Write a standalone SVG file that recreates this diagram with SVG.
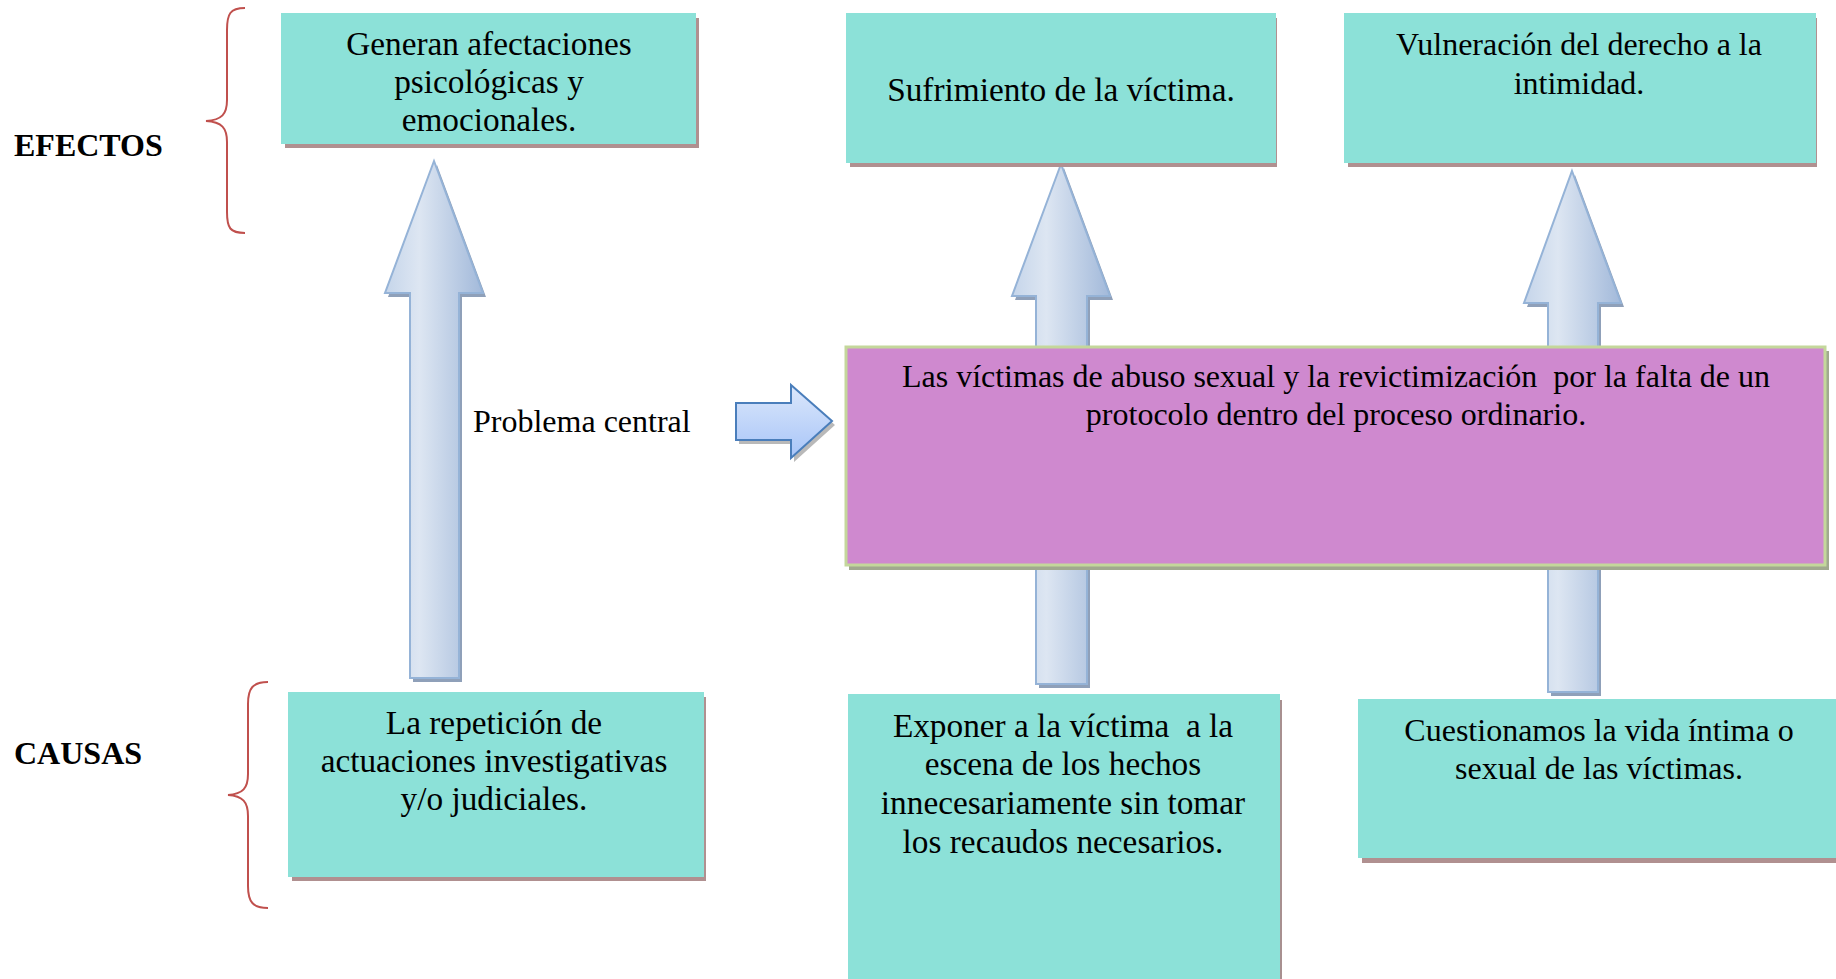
<svg xmlns="http://www.w3.org/2000/svg" width="1836" height="979" viewBox="0 0 1836 979">
<defs>
<linearGradient id="ag" x1="0" y1="0" x2="1" y2="0">
<stop offset="0" stop-color="#c5d5ea"/>
<stop offset="0.35" stop-color="#dde6f2"/>
<stop offset="1" stop-color="#a2b9da"/>
</linearGradient>
<linearGradient id="bg" x1="0" y1="0" x2="0" y2="1">
<stop offset="0" stop-color="#dbe7fb"/>
<stop offset="1" stop-color="#a8c5f8"/>
</linearGradient>
<style>
.t{font-family:"Liberation Serif","Times New Roman",serif;font-size:33.3px;fill:#000;text-anchor:middle}
.t2{font-family:"Liberation Serif","Times New Roman",serif;font-size:32px;fill:#000;text-anchor:middle}
.lbl{font-family:"Liberation Serif","Times New Roman",serif;font-size:32px;font-weight:bold;fill:#000}
.box{fill:#8ce1d8}
.sh{fill:#b09090}
.arr{fill:url(#ag);stroke:#95b3d7;stroke-width:2}
.ash{fill:#8fa0b9}
.brace{fill:none;stroke:#c0504d;stroke-width:2}
</style>
</defs>
<rect width="1836" height="979" fill="#fff"/>

<g id="labels">
<text class="lbl" x="14" y="156">EFECTOS</text>
<text class="lbl" x="14" y="764">CAUSAS</text>
<path class="brace" d="M245,8 C230,8 227,14 227,30 L227,100 C227,114 222,120 206,121 C222,122 227,128 227,142 L227,212 C227,228 230,233 245,233"/>
<path class="brace" d="M268,682 C253,682 248,688 248,704 L248,774 C248,788 243,794 228,795 C243,796 248,802 248,816 L248,886 C248,902 253,908 268,908"/>
</g>

<g id="connectors">
<g id="arrow-left">
<path class="ash" transform="translate(3,4)" d="M434,161 L483,293 L459,293 L459,678 L410,678 L410,293 L385,293 Z"/>
<path class="arr" d="M434,161 L483,293 L459,293 L459,678 L410,678 L410,293 L385,293 Z"/>
</g>
<g id="arrow-mid">
<path class="ash" transform="translate(3,4)" d="M1061,164 L1110,296 L1087,296 L1087,684 L1036,684 L1036,296 L1012,296 Z"/>
<path class="arr" d="M1061,164 L1110,296 L1087,296 L1087,684 L1036,684 L1036,296 L1012,296 Z"/>
</g>
<g id="arrow-right">
<path class="ash" transform="translate(3,4)" d="M1572,171 L1621,303 L1598,303 L1598,692 L1548,692 L1548,303 L1524,303 Z"/>
<path class="arr" d="M1572,171 L1621,303 L1598,303 L1598,692 L1548,692 L1548,303 L1524,303 Z"/>
</g>
<g id="arrow-block">
<path fill="#8a8a8a" opacity="0.6" transform="translate(3,4)" d="M736,403 L791,403 L791,385 L832,421 L791,458 L791,440 L736,440 Z"/>
<path fill="url(#bg)" stroke="#4a7ebb" stroke-width="2" d="M736,403 L791,403 L791,385 L832,421 L791,458 L791,440 L736,440 Z"/>
</g>
</g>

<g id="node-generan">
<rect class="sh" x="285" y="18" width="414" height="130"/>
<rect class="box" x="281" y="13" width="415" height="131"/>
<text class="t" x="489" y="55">Generan afectaciones</text>
<text class="t" x="489" y="93">psicológicas y</text>
<text class="t" x="489" y="131">emocionales.</text>
</g>

<g id="node-sufrimiento">
<rect class="sh" x="850" y="18" width="427" height="149"/>
<rect class="box" x="846" y="13" width="430" height="150"/>
<text class="t" x="1061" y="101">Sufrimiento de la víctima.</text>
</g>

<g id="node-vulneracion">
<rect class="sh" x="1348" y="18" width="469" height="149"/>
<rect class="box" x="1344" y="13" width="472" height="150"/>
<text class="t2" x="1579" y="55">Vulneración del derecho a la</text>
<text class="t2" x="1579" y="94">intimidad.</text>
</g>

<g id="node-central">
<rect fill="#a1a98f" x="849" y="351" width="980" height="219"/>
<rect fill="#cf89cf" stroke="#c4d79b" stroke-width="3" x="846" y="347" width="979" height="218"/>
<text class="t2" x="1336" y="387" xml:space="preserve">Las víctimas de abuso sexual y la revictimización  por la falta de un</text>
<text class="t2" x="1336" y="425">protocolo dentro del proceso ordinario.</text>
</g>

<g id="node-problema">
<text font-family="Liberation Serif, Times New Roman, serif" font-size="32" x="473" y="432">Problema central</text>
</g>

<g id="node-repeticion">
<rect class="sh" x="292" y="697" width="414" height="184"/>
<rect class="box" x="288" y="692" width="416" height="185"/>
<text class="t" x="494" y="734">La repetición de</text>
<text class="t" x="494" y="772">actuaciones investigativas</text>
<text class="t" x="494" y="810">y/o judiciales.</text>
</g>

<g id="node-exponer">
<rect fill="#a89090" x="1279" y="700" width="3" height="279"/>
<rect class="box" x="848" y="694" width="432" height="285"/>
<text class="t" x="1063" y="737" xml:space="preserve">Exponer a la víctima  a la</text>
<text class="t" x="1063" y="775">escena de los hechos</text>
<text class="t" x="1063" y="814">innecesariamente sin tomar</text>
<text class="t" x="1063" y="853">los recaudos necesarios.</text>
</g>

<g id="node-cuestionamos">
<rect class="sh" x="1362" y="704" width="474" height="159"/>
<rect class="box" x="1358" y="699" width="478" height="159"/>
<text class="t2" x="1599" y="741">Cuestionamos la vida íntima o</text>
<text class="t2" x="1599" y="779">sexual de las víctimas.</text>
</g>
</svg>
